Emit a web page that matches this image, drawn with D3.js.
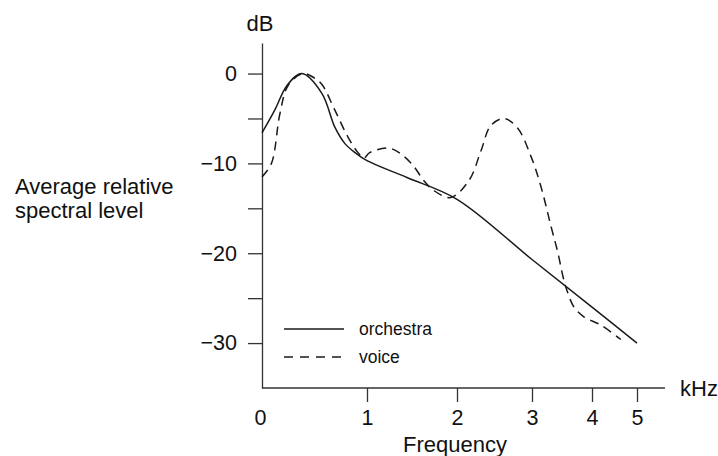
<!DOCTYPE html>
<html>
<head>
<meta charset="utf-8">
<style>
  body { margin: 0; background: #fff; }
  text { font-family: "Liberation Sans", Arial, Helvetica, sans-serif; fill: #111; }
</style>
</head>
<body>
<svg width="718" height="456"></svg>
<script src="https://d3js.org/d3.v7.min.js"></script>
<script>
// kHz / dB readings
var orchestraF  = [0, 0.12, 0.24, 0.38, 0.57, 0.695, 0.79, 0.886, 1.0, 1.45, 2.0, 3.0, 4.0, 5.0];
var orchestraDb = [-6.6, -4.1, -1.3, 0, -2.2, -6.0, -7.8, -8.8, -9.7, -11.6, -14, -20.7, -26, -30];

var voiceF  = [0, 0.09, 0.17, 0.25, 0.39, 0.5, 0.57, 0.695, 0.82, 0.914, 0.97, 1.03, 1.24, 1.37, 1.51, 1.63, 1.74, 1.93,
               2.16, 2.32, 2.45, 2.63, 2.81, 2.99, 3.15, 3.32, 3.43, 3.52, 3.58, 3.7, 3.87, 4.2, 4.64];
var voiceDb = [-11.5, -10, -4.5, -1.3, 0, -0.5, -1.2, -4.1, -7.1, -8.8, -9.4, -8.8, -8.3, -8.9, -10.2, -11.9, -13, -13.8,
               -11.9, -8.6, -5.8, -5.0, -6.1, -9.3, -12.6, -17.1, -19.9, -22.7, -24.1, -26, -27.1, -28, -29.6];

var xTicks = [0, 1, 2, 3, 4, 5];
var yTicks = [0, -5, -10, -15, -20, -25, -30];
var yLabelled = [0, -10, -20, -30];

var svg = d3.select("svg");
var left = 262, bottom = 388;

// the frequency axis is compressed towards high kHz
function warp(f) { return left + 112.5 * f - 7.5 * f * f; }
var x = d3.scaleLinear().domain(xTicks).range(xTicks.map(warp));
var y = d3.scaleLinear().domain([-35, 3.4]).range([bottom, 43]);

// y axis
var yAxis = d3.axisLeft(y).tickValues(yTicks).tickSize(14).tickSizeOuter(0).tickPadding(11)
  .tickFormat(function(d) { return yLabelled.indexOf(d) >= 0 ? (d < 0 ? "\u2212" + (-d) : d) : ""; });
var gy = svg.append("g").attr("transform", "translate(" + left + ",0)").call(yAxis);

// x axis
var xAxis = d3.axisBottom(x).tickValues(xTicks).tickSize(14).tickSizeOuter(0).tickPadding(8)
  .tickFormat(d3.format("d"));
var gx = svg.append("g").attr("transform", "translate(0," + bottom + ")").call(xAxis);
gx.select(".domain").remove();
gx.append("line").attr("x1", left).attr("x2", 665).attr("stroke", "#333").attr("stroke-width", 1.3);
gx.selectAll(".tick").filter(function(d) { return d == 0; }).select("line").remove();
gx.selectAll(".tick text").attr("dx", function(d) { return d == 0 ? -2 : 0; });

svg.selectAll(".domain, .tick line").attr("stroke", "#333").attr("stroke-width", 1.3);
svg.selectAll(".tick text").style("font-size", "21.5px").attr("fill", "#111")
  .style("font-family", '"Liberation Sans", Arial, sans-serif');

// curves
var line = d3.line()
  .x(function(d) { return x(d[0]); })
  .y(function(d) { return y(d[1]); })
  .curve(d3.curveCatmullRom.alpha(0.5));

svg.append("path")
  .datum(d3.zip(orchestraF, orchestraDb))
  .attr("d", line)
  .attr("fill", "none").attr("stroke", "#1a1a1a").attr("stroke-width", 1.5);

svg.append("path")
  .datum(d3.zip(voiceF, voiceDb))
  .attr("d", line)
  .attr("fill", "none").attr("stroke", "#1a1a1a").attr("stroke-width", 1.5)
  .attr("stroke-dasharray", "9,6");

// legend
svg.append("line").attr("x1", 284).attr("x2", 344).attr("y1", 329).attr("y2", 329)
  .attr("stroke", "#1a1a1a").attr("stroke-width", 1.5);
svg.append("line").attr("x1", 284).attr("x2", 344).attr("y1", 357).attr("y2", 357)
  .attr("stroke", "#1a1a1a").attr("stroke-width", 1.5).attr("stroke-dasharray", "9,7");
svg.append("text").attr("x", 359).attr("y", 335).style("font-size", "17.5px").text("orchestra");
svg.append("text").attr("x", 359).attr("y", 363).style("font-size", "17.5px").text("voice");

// labels
svg.append("text").attr("x", 260).attr("y", 31).attr("text-anchor", "middle").style("font-size", "22px").text("dB");
svg.append("text").attr("x", 680).attr("y", 396).style("font-size", "22px").text("kHz");
svg.append("text").attr("x", 455).attr("y", 452).attr("text-anchor", "middle").style("font-size", "22px").text("Frequency");
svg.append("text").attr("x", 15).attr("y", 194).style("font-size", "22px").text("Average relative");
svg.append("text").attr("x", 15).attr("y", 218).style("font-size", "22px").text("spectral level");
</script>
</body>
</html>
